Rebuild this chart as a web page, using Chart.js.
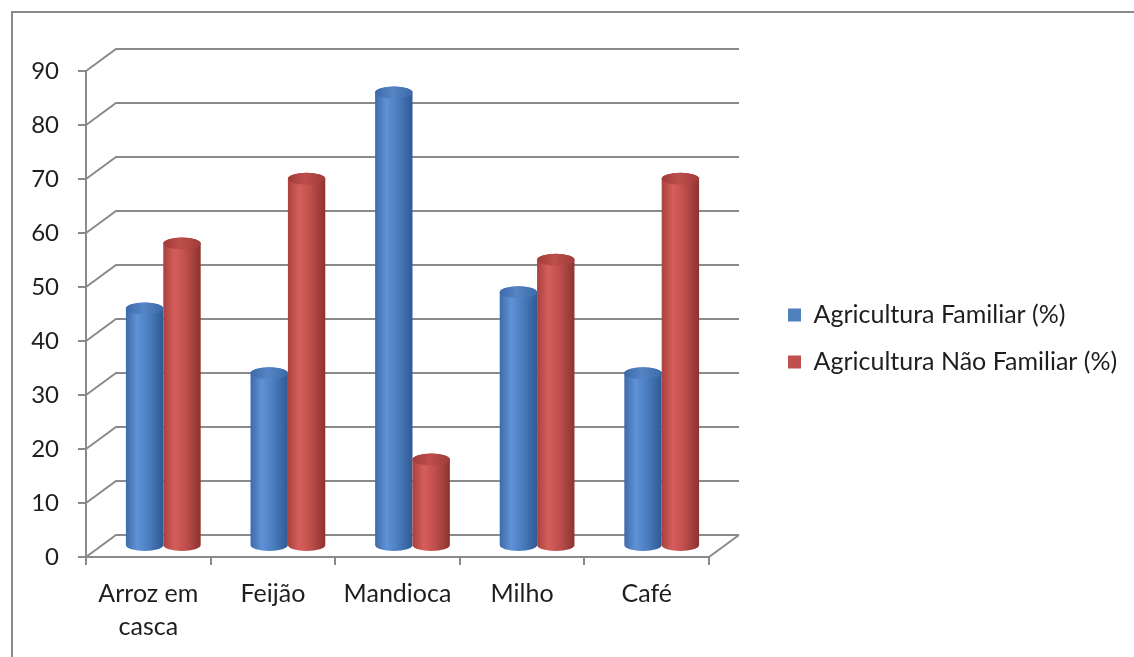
<!DOCTYPE html>
<html>
<head>
<meta charset="utf-8">
<script src="https://cdn.jsdelivr.net/npm/chart.js@4/dist/chart.umd.min.js"></script>
<style>
  html, body { margin: 0; padding: 0; background: #fff; overflow: hidden; }
  #wrap { position: relative; width: 1134px; height: 657px; }
  #frame { position: absolute; left: 11px; top: 11px; width: 1200px; height: 700px;
           border-left: 2px solid #8a8a8a; border-top: 2px solid #8a8a8a; }
  canvas { position: absolute; left: 0; top: 0; }
</style>
</head>
<body>
<div id="wrap">
  <div id="frame"></div>
  <canvas id="chart" width="1134" height="657"></canvas>
</div>
<script>
const categories = [['Arroz em', 'casca'], 'Feijão', 'Mandioca', 'Milho', 'Café'];
const familiar = [44, 32, 84, 47, 32];
const naoFamiliar = [56, 68, 16, 53, 68];
const seriesNames = ['Agricultura Familiar (%)', 'Agricultura Não Familiar (%)'];
const yMin = 0, yMax = 90, yStep = 10;

const GRID = '#8a8a8a';
const TEXT = '#1e1e1e';
const FONT = { family: 'Lato', size: 25 };
// depth of the 3d wall
const DX = 30, DY = -22;

// legend geometry: box left edge near 790, spacer axis (y2) between plot and legend
const LEG_PAD = 22, LEG_BOX = 13, LEG_EXTRA = 8;
const PLOT_RIGHT = 711;
const mctx = document.createElement('canvas').getContext('2d');
mctx.font = FONT.size + 'px ' + FONT.family;
const legTextW = Math.max(...seriesNames.map(s => mctx.measureText(s).width));
const legLeft = 790 - LEG_PAD;
const legWidth = LEG_PAD + LEG_BOX + FONT.size / 2 + legTextW + LEG_EXTRA;
const padRight = Math.max(0, 1134 - legLeft - legWidth);

const shades = [
  { base: '#4F81BD', edge: '#3f6aa8', light: '#5f92d6', mid: '#4f82c4', dark: '#2f5a94', cap: '#3c69a8', capHi: '#5585c6' },
  { base: '#C0504D', edge: '#a8413e', light: '#d65e5a', mid: '#c4524f', dark: '#8e3330', cap: '#a03c39', capHi: '#bd4e4b' }
];

function drawCylinder(ctx, bar, c) {
  const cx = bar.x + DX / 2, w = bar.width;
  const l = cx - w / 2, r = cx + w / 2;
  const top = bar.y + DY / 2, bot = bar.base + DY / 2, ry = 6;

  const g = ctx.createLinearGradient(l, 0, r, 0);
  g.addColorStop(0, c.edge);
  g.addColorStop(0.3, c.light);
  g.addColorStop(0.55, c.mid);
  g.addColorStop(1, c.dark);
  ctx.fillStyle = g;
  ctx.beginPath();
  ctx.moveTo(l, top);
  ctx.lineTo(l, bot);
  ctx.ellipse(cx, bot, w / 2, ry, 0, Math.PI, 0, true);
  ctx.lineTo(r, top);
  ctx.ellipse(cx, top, w / 2, ry, 0, 0, Math.PI, true);
  ctx.closePath();
  ctx.fill();

  const cg = ctx.createLinearGradient(l, 0, r, 0);
  cg.addColorStop(0, c.cap);
  cg.addColorStop(0.45, c.capHi);
  cg.addColorStop(1, c.cap);
  ctx.fillStyle = cg;
  ctx.beginPath();
  ctx.ellipse(cx, top, w / 2, ry, 0, 0, Math.PI * 2);
  ctx.fill();
}

const wall3d = {
  id: 'wall3d',
  beforeDatasetsDraw(chart) {
    const { ctx, chartArea: a, scales: { y } } = chart;
    ctx.save();
    ctx.strokeStyle = GRID;
    ctx.lineWidth = 2;
    ctx.beginPath();
    y.ticks.forEach(t => {
      const py = y.getPixelForValue(t.value);
      ctx.moveTo(a.left, py);
      ctx.lineTo(a.left + DX, py + DY);
      ctx.lineTo(a.right + DX, py + DY);
    });
    const p0 = y.getPixelForValue(yMin);
    ctx.moveTo(a.right, p0);
    ctx.lineTo(a.right + DX, p0 + DY);
    ctx.stroke();

    chart.data.datasets.forEach((ds, i) => {
      chart.getDatasetMeta(i).data.forEach(bar => drawCylinder(ctx, bar, shades[i]));
    });
    ctx.restore();
    return false;
  }
};

new Chart(document.getElementById('chart'), {
  type: 'bar',
  data: {
    labels: categories,
    datasets: [
      { label: seriesNames[0], data: familiar, backgroundColor: shades[0].base, borderWidth: 0,
        categoryPercentage: 0.6, barPercentage: 1 },
      { label: seriesNames[1], data: naoFamiliar, backgroundColor: shades[1].base, borderWidth: 0,
        categoryPercentage: 0.6, barPercentage: 1 }
    ]
  },
  options: {
    responsive: false,
    animation: false,
    layout: { padding: { top: 71, left: 0, right: padRight, bottom: 14 } },
    plugins: {
      tooltip: { enabled: false },
      legend: {
        position: 'right',
        fullSize: false,
        maxWidth: 500,
        title: { display: true, text: '', font: { size: 20 }, padding: { top: 12, bottom: 13 } },
        labels: { boxWidth: LEG_BOX, boxHeight: LEG_BOX, padding: LEG_PAD, color: TEXT, font: FONT }
      }
    },
    scales: {
      x: {
        grid: { display: true, drawOnChartArea: false, drawTicks: true, tickLength: 8, color: GRID, lineWidth: 2, offset: true },
        border: { display: true, color: GRID, width: 2 },
        ticks: { color: TEXT, font: { ...FONT, lineHeight: 1.32 }, padding: 12, maxRotation: 0, autoSkip: false },
        afterFit: s => { s.height = 86; }
      },
      y: {
        min: yMin, max: yMax,
        grid: { display: true, drawOnChartArea: false, drawTicks: true, tickLength: 8, color: GRID, lineWidth: 2 },
        border: { display: true, color: GRID, width: 2 },
        ticks: { stepSize: yStep, color: TEXT, font: { family: 'Lato', size: 24 }, padding: 19 },
        afterFit: s => { s.width = 86; }
      },
      y2: {
        type: 'linear', position: 'right', display: true,
        grid: { display: false }, border: { display: false }, ticks: { display: false },
        afterFit: s => { s.width = legLeft - PLOT_RIGHT; }
      }
    }
  },
  plugins: [wall3d]
});
</script>
</body>
</html>
